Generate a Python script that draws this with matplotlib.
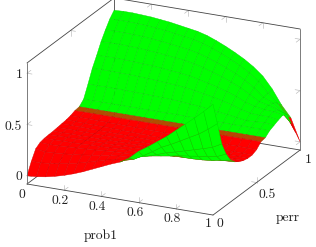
import numpy as np
import matplotlib
matplotlib.use('Agg')
import matplotlib.pyplot as plt
from mpl_toolkits.mplot3d import proj3d

prob1 = [0, .05, .1, .15, .2, .25, .3, .35, .4, .45, .5, .55, .6, .65, .7, .75, .8, .85, .9, .95, 1]
perr = [0, .05, .1, .15, .2, .25, .3, .35, .4, .45, .5, .55, .6, .65, .7, .75, .8, .85, .9, .95, 1]

# z values, one list per perr row
z_00 = [0, .006, .02, .04, .065, .095, .13, .17, .21, .25, .285, .34, .42, .48, .545, .61, .685, .76, .835, .915, 1]
z_05 = [.11, .11, .118, .131, .147, .167, .19, .216, .242, .26, .27, .295, .345, .4, .459, .502, .55, .6, .648, .71, .78]
z_10 = [.2, .185, .189, .196, .205, .215, .228, .242, .256, .265, .27, .285, .31, .34, .373, .396, .422, .448, .474, .502, .55]
z_15 = [.23, .225, .227, .231, .235, .24, .246, .253, .26, .262, .265, .27, .28, .295, .31, .328, .34, .353, .366, .38, .42]
z_20 = [.24, .24, .241, .242, .244, .247, .249, .253, .256, .258, .26, .262, .27, .274, .276, .278, .28, .285, .295, .312, .33]
z_25 = [.243, .244, .245, .246, .247, .248, .249, .25, .251, .252, .254, .255, .257, .259, .261, .263, .266, .268, .271, .275, .28]
z_30 = [.245, .245, .246, .246, .246, .246, .246, .247, .247, .247, .247, .247, .248, .248, .248, .248, .249, .249, .249, .25, .25]
z_35 = [.25, .25, .249, .248, .247, .246, .245, .244, .243, .242, .241, .24, .239, .238, .237, .236, .235, .234, .233, .232, .23]
z_40 = [.255, .254, .252, .25, .248, .247, .245, .244, .242, .24, .238, .237, .235, .233, .232, .23, .228, .227, .225, .223, .22]
z_45 = [.26, .258, .256, .254, .252, .25, .248, .246, .244, .242, .24, .238, .236, .234, .232, .23, .228, .226, .224, .222, .22]
z_50 = [.27, .268, .266, .265, .263, .262, .26, .259, .257, .256, .255, .253, .252, .25, .249, .247, .246, .244, .243, .241, .24]
z_55 = [.287, .287, .287, .287, .287, .287, .287, .287, .287, .287, .287, .287, .287, .286, .286, .286, .286, .286, .286, .286, .285]
z_60 = [.293, .293, .293, .293, .293, .293, .293, .293, .293, .293, .293, .293, .293, .293, .293, .293, .293, .293, .293, .293, .293]
z_65 = [.335, .335, .335, .335, .335, .335, .335, .335, .335, .335, .335, .333, .332, .332, .331, .331, .33, .33, .33, .33, .33]
z_70 = [.45, .451, .451, .45, .449, .446, .444, .441, .438, .434, .429, .421, .412, .402, .391, .378, .365, .35, .355, .36, .35]
z_75 = [.572, .574, .574, .572, .57, .566, .562, .556, .55, .544, .534, .52, .504, .486, .466, .442, .412, .39, .385, .385, .37]
z_80 = [.667, .67, .67, .667, .664, .659, .654, .646, .638, .629, .616, .597, .575, .551, .524, .492, .451, .425, .41, .405, .385]
z_85 = [.769, .772, .772, .769, .766, .759, .752, .742, .731, .721, .704, .68, .652, .621, .586, .545, .493, .44, .42, .39, .36]
z_90 = [.851, .855, .855, .851, .847, .839, .831, .818, .806, .794, .774, .746, .713, .677, .636, .587, .527, .45, .41, .33, .24]
z_95 = [.926, .93, .93, .926, .921, .912, .903, .889, .875, .861, .838, .806, .769, .728, .682, .627, .558, .46, .38, .27, .12]
z_100 = [.98, .985, .985, .98, .975, .965, .955, .94, .925, .91, .885, .85, .81, .765, .715, .655, .58, .47, .33, .22, 0]

x_ticks = [.2, .4, .6, .8]
y_ticks = [.5]
z_ticks = [0, .5, 1]

# text in picture pixels
labels = [('0', 22, 195), ('0.2', 60, 201), ('0.4', 97, 207), ('0.6', 135, 213), ('0.8', 172, 219), ('1', 208, 224),
          ('0', 220, 224), ('0.5', 267, 195), ('1', 308, 160),
          ('0', 19, 177), ('0.5', 13, 127), ('1', 19, 75),
          ('prob1', 101, 236), ('perr', 288, 218)]

Z_LO, Z_HI = -.08, 1.1
W, H = 316, 247
SIDE = 500.0

fig = plt.figure(figsize=(W / 100, H / 100), dpi=100)
ax = fig.add_axes([(W - SIDE) / 2 / W, (H - SIDE) / 2 / H, SIDE / W, SIDE / H], projection='3d', proj_type='ortho')
ax.computed_zorder = False
ax.set_axis_off()
ax.view_init(elev=20.66, azim=-64.7)
ax.set_xlim(0, 1, view_margin=0)
ax.set_ylim(0, 1, view_margin=0)
ax.set_zlim(Z_LO, Z_HI, view_margin=0)

X, Y = np.meshgrid(prob1, perr)
Z = np.array([z_00, z_05, z_10, z_15, z_20, z_25, z_30, z_35, z_40, z_45, z_50,
              z_55, z_60, z_65, z_70, z_75, z_80, z_85, z_90, z_95, z_100])

# red below the level, green above, short blend between
zm = (Z[:-1, :-1] + Z[1:, :-1] + Z[:-1, 1:] + Z[1:, 1:]) / 4
t = np.clip((zm - .284) / .02, 0, 1)[..., None]
faces = np.concatenate([(1 - t), t, 0 * t, 1 + 0 * t], axis=2)
edges = faces.copy()
edges[..., :3] *= .85

surf = ax.plot_surface(X, Y, Z, rstride=1, cstride=1, facecolors=faces, shade=False, linewidth=.3, zorder=2, antialiased=True)
surf.set_edgecolor(edges.reshape(-1, 4))


def seg(a, b, color='#444444', lw=.6, zo=3):
    ax.plot([a[0], b[0]], [a[1], b[1]], [a[2], b[2]], color=color, lw=lw, zorder=zo, solid_capstyle='round')


# box
seg((0, 0, Z_LO), (0, 1, Z_LO), zo=1)
seg((0, 1, Z_LO), (1, 1, Z_LO), zo=1)
seg((0, 1, Z_LO), (0, 1, Z_HI), zo=1)
seg((0, 0, Z_LO), (1, 0, Z_LO))
seg((1, 0, Z_LO), (1, 1, Z_LO))
seg((0, 0, Z_LO), (0, 0, Z_HI), color='#666666')
seg((0, 0, Z_HI), (0, 1, Z_HI))
seg((0, 1, Z_HI), (1, 1, Z_HI))
seg((1, 1, Z_LO), (1, 1, Z_HI), color='#666666')

# forked ticks on both sides of the box
DX, DY, DZ = .027, .045, .05
TC = '#b8b8b8'
for v in x_ticks:
    seg((v, 0, Z_LO), (v, DY, Z_LO), TC, .45, 1)
    seg((v, 0, Z_LO), (v, 0, Z_LO + DZ), TC, .45, 1)
    seg((v, 1, Z_HI), (v, 1 - DY, Z_HI), TC, .45, 1)
    seg((v, 1, Z_HI), (v, 1, Z_HI - DZ), TC, .45, 1)
for v in y_ticks:
    seg((1, v, Z_LO), (1 - DX, v, Z_LO), TC, .45, 1)
    seg((1, v, Z_LO), (1, v, Z_LO + DZ), TC, .45, 1)
    seg((0, v, Z_HI), (DX, v, Z_HI), TC, .45, 1)
    seg((0, v, Z_HI), (0, v, Z_HI - DZ), TC, .45, 1)
for v in z_ticks:
    seg((0, 0, v), (DX, 0, v), TC, .45, 1)
    seg((0, 0, v), (0, DY, v), TC, .45, 1)
    seg((1, 1, v), (1 - DX, 1, v), TC, .45, 1)
    seg((1, 1, v), (1, 1 - DY, v), TC, .45, 1)


def to_px(x, y, z):
    u, v, _ = proj3d.proj_transform(x, y, z, ax.get_proj())
    return ax.transData.transform((u, v))


# fit the box on to the corners seen in the picture
BOX = (205.7, 203.7, 129.3)
ax.set_box_aspect(BOX, zoom=1)
fig.canvas.draw()
span = np.hypot(*(to_px(1, 0, Z_LO) - to_px(0, 0, Z_LO)))
ax.set_box_aspect(BOX, zoom=188.6 / span)
fig.canvas.draw()
p0 = to_px(0, 0, Z_LO)
pos = ax.get_position(original=True)
ax.set_position([pos.x0 + (27 - p0[0]) / W, pos.y0 + ((H - 184) - p0[1]) / H, pos.width, pos.height])

for s, px, py in labels:
    fig.text(px / W, 1 - py / H, s, family='cmr10', fontsize=9.8, color='#222222', ha='center', va='center')

fig.savefig('out.png', dpi=100)
